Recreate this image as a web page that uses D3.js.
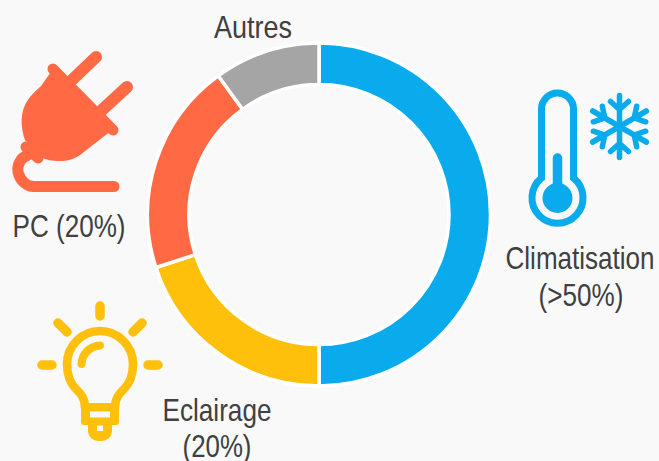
<!DOCTYPE html>
<html>
<head>
<meta charset="utf-8">
<script src="https://cdnjs.cloudflare.com/ajax/libs/d3/7.8.5/d3.min.js"></script>
<style>
    html, body { margin: 0; padding: 0; background: #f9f9f9; }
    svg { display: block; }
    text { font-family: "Liberation Sans", Arial, sans-serif; fill: #404040; }
</style>
</head>
<body>
<div id="chart"></div>
<script>
var categories = ['Climatisation', 'Eclairage', 'PC', 'Autres'];
var shares = [50, 20, 20, 10];
var sliceColors = ['#0aabec', '#ffc00b', '#ff6a45', '#a5a5a5'];

var width = 659, height = 461;
var pageColor = '#f9f9f9';
var blue = sliceColors[0], yellow = sliceColors[1], orange = sliceColors[2];

var svg = d3.select('#chart').append('svg')
    .attr('width', width)
    .attr('height', height);

// Ring
var pie = d3.pie().sort(null);
var arc = d3.arc().innerRadius(130).outerRadius(171.5);

svg.append('g')
    .attr('transform', 'translate(319,214.5)')
    .selectAll('path')
    .data(pie(shares))
    .enter().append('path')
    .attr('d', arc)
    .attr('fill', function (d, i) { return sliceColors[i]; })
    .attr('stroke', '#fff')
    .attr('stroke-width', 3.5);

// Labels, one row per line of text. The originals are condensed, so squeeze to the measured width
var labelRows = [
    {text: categories[3], x: 253, y: 37.5, w: 78},
    {text: 'PC (20%)', x: 69, y: 237, w: 113},
    {text: categories[0], x: 580, y: 269, w: 149},
    {text: '(>50%)', x: 581, y: 306, w: 85},
    {text: categories[1], x: 217, y: 421, w: 109},
    {text: '(20%)', x: 217, y: 457, w: 69}
];

svg.selectAll('text.label')
    .data(labelRows)
    .enter().append('text')
    .attr('class', 'label')
    .attr('text-anchor', 'middle')
    .attr('font-size', 32)
    .text(function (d) { return d.text; })
    .attr('transform', function (d) {
        return 'translate(' + d.x + ',' + d.y + ') scale(' + d.w / this.getComputedTextLength () + ',1)';
    });

// Plug icon
var plug = svg.append('g').attr('stroke-linecap', 'round').attr('fill', 'none');
plug.append('path')
    .attr('d', 'M72,80L96,57M102,110L127,87')
    .attr('stroke', orange).attr('stroke-width', 12);
plug.append('path')
    .attr('d', 'M53,69L113,130')
    .attr('stroke', orange).attr('stroke-width', 11);
plug.append('path')
    .attr('d', 'M53,69L113,130L107,134L80,155C74,159 68,161 60,161C52,161 47,160 43,158L25,140C22,132 21,122 22,116C23,108 26,102 30,97C33,93 37,90 41,86Z')
    .attr('fill', orange);
plug.append('path')
    .attr('d', 'M26,147L38,158')
    .attr('stroke', orange).attr('stroke-width', 11);
plug.append('path')
    .attr('d', 'M28,155C20,158 17,165 18,172C20,181 27,186.5 34,186.5H114')
    .attr('stroke', orange).attr('stroke-width', 11);

// Thermometer icon
var thermo = svg.append('g');
thermo.append('path')
    .attr('d', 'M541.5,178V109A16,16 0 0 1 573.5,109V178A25.5,25.5 0 1 1 541.5,178Z')
    .attr('fill', 'none').attr('stroke', blue).attr('stroke-width', 7);
thermo.append('path')
    .attr('d', 'M557.5,158V190')
    .attr('fill', 'none').attr('stroke', blue).attr('stroke-width', 9.5).attr('stroke-linecap', 'round');
thermo.append('circle')
    .attr('cx', 557.5).attr('cy', 198).attr('r', 15).attr('fill', blue);

// Snowflake icon, six identical arms
svg.append('g')
    .attr('transform', 'translate(619.5,126.5)')
    .selectAll('path')
    .data(d3.range(6))
    .enter().append('path')
    .attr('transform', function (d) { return 'rotate(' + d * 60 + ')'; })
    .attr('d', 'M0,0V-31M-9,-25L0,-17L9,-25')
    .attr('fill', 'none')
    .attr('stroke', blue)
    .attr('stroke-width', 5.5)
    .attr('stroke-linecap', 'round')
    .attr('stroke-linejoin', 'round');

// Light bulb icon
var bulb = svg.append('g').attr('fill', 'none').attr('stroke', yellow).attr('stroke-linecap', 'round');
bulb.append('path')
    .attr('d', 'M100,306V316M58,323L67,332M142,323L133,332M42,365H52M148,365H158')
    .attr('stroke-width', 9.5);
bulb.append('path')
    .attr('d', 'M85,408C85,398 81,394 76,389C70,383 67,374 67,364A33,33 0 0 1 133,364C133,374 130,383 124,389C119,394 115,398 115,408')
    .attr('stroke-width', 8.5);
bulb.append('path')
    .attr('d', 'M81.5,364C82,354 90,346 100,345.5')
    .attr('stroke-width', 8);
bulb.append('rect')
    .attr('x', 81).attr('y', 403).attr('width', 38).attr('height', 22).attr('rx', 3)
    .attr('fill', yellow).attr('stroke', 'none');
bulb.append('rect')
    .attr('x', 90).attr('y', 411.5).attr('width', 20).attr('height', 6)
    .attr('fill', pageColor).attr('stroke', 'none');
bulb.append('path')
    .attr('d', 'M88,424H112V431A10,10 0 0 1 102,441H98A10,10 0 0 1 88,431Z')
    .attr('fill', yellow).attr('stroke', 'none');
bulb.append('rect')
    .attr('x', 97).attr('y', 425.5).attr('width', 6).attr('height', 5.5)
    .attr('fill', pageColor).attr('stroke', 'none');
</script>
</body>
</html>
